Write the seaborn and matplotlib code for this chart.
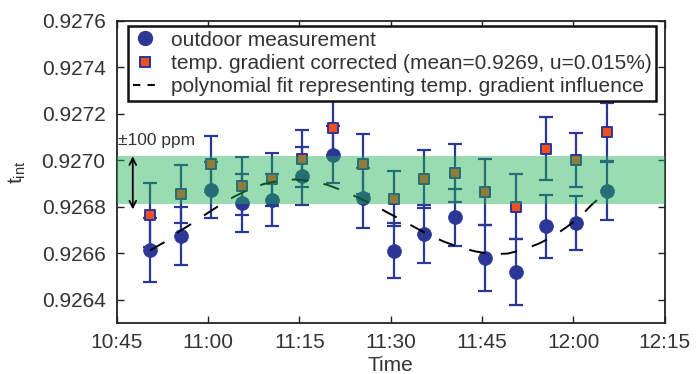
import numpy as np
import pandas as pd
import matplotlib
matplotlib.use("Agg")
import matplotlib.pyplot as plt
import matplotlib.dates as mdates
from matplotlib.lines import Line2D
from matplotlib.ticker import FormatStrFormatter
import seaborn as sns

# --- measurement series -------------------------------------------------
times = ["10:50:30", "10:55:30", "11:00:30", "11:05:30", "11:10:30", "11:15:30",
         "11:20:30", "11:25:30", "11:30:30", "11:35:30", "11:40:30", "11:45:30",
         "11:50:30", "11:55:30", "12:00:30", "12:05:30"]
outdoor = [0.926613, 0.926673, 0.926874, 0.926817, 0.926828, 0.926932,
           0.927025, 0.926840, 0.926612, 0.926684, 0.926755, 0.926580,
           0.926520, 0.926716, 0.926731, 0.926868]
corrected = [0.926766, 0.926854, 0.926983, 0.926890, 0.926918, 0.927008,
             0.927141, 0.926986, 0.926835, 0.926921, 0.926945, 0.926864,
             0.926800, 0.927050, 0.927002, 0.927122]
uncertainty = [0.000138, 0.000125, 0.000120, 0.000125, 0.000112, 0.000124,
               0.000122, 0.000129, 0.000118, 0.000125, 0.000124, 0.000142,
               0.000140, 0.000135, 0.000116, 0.000125]

# polynomial fit of the temperature-gradient influence
fit_times = ["10:50:30", "10:52:56", "10:54:34", "10:57:19", "10:59:40", "11:01:50",
             "11:04:08", "11:06:26", "11:09:04", "11:11:41", "11:14:16", "11:16:51",
             "11:19:34", "11:22:02", "11:24:30", "11:26:52", "11:29:19", "11:31:37",
             "11:33:58", "11:36:19", "11:38:47", "11:41:14", "11:43:49", "11:46:26",
             "11:49:11", "11:51:44", "11:54:19", "11:56:40", "11:58:52", "12:01:04",
             "12:02:52", "12:05:30"]
fit_values = [0.926613, 0.926650, 0.926683, 0.926728, 0.926769, 0.926806,
              0.926842, 0.926872, 0.926898, 0.926913, 0.926918, 0.926912,
              0.926895, 0.926871, 0.926842, 0.926813, 0.926778, 0.926746,
              0.926712, 0.926679, 0.926650, 0.926627, 0.926609, 0.926597,
              0.926599, 0.926616, 0.926642, 0.926673, 0.926713, 0.926756,
              0.926806, 0.926868]

# +-100 ppm band around the corrected mean
band_low, band_high = 0.926812, 0.927021

y_ticks = [0.9264, 0.9266, 0.9268, 0.9270, 0.9272, 0.9274, 0.9276]

BLUE = "#2B3797"
ORANGE = "#F24E22"
GREEN = "#1EB252"
TEXT = "#333333"

DAY = "2014-06-12 "

def to_dt(values):
    return pd.to_datetime([DAY + v for v in values])

df = pd.DataFrame({
    "time": to_dt(times),
    "outdoor": outdoor,
    "corrected": corrected,
    "err": uncertainty,
})
fit_df = pd.DataFrame({"time": to_dt(fit_times), "fit": fit_values})

sns.set_style("ticks")
plt.rcParams["font.family"] = ["Liberation Sans", "DejaVu Sans"]
plt.rcParams["text.color"] = TEXT
plt.rcParams["axes.labelcolor"] = TEXT
plt.rcParams["xtick.color"] = "#222222"
plt.rcParams["ytick.color"] = "#222222"
plt.rcParams["xtick.labelcolor"] = TEXT
plt.rcParams["ytick.labelcolor"] = TEXT

fig, ax = plt.subplots(figsize=(6.99, 3.74), dpi=100)
fig.subplots_adjust(left=0.167, right=0.951, top=0.944, bottom=0.136)

# outdoor measurement
ax.errorbar(df["time"], df["outdoor"], yerr=df["err"], fmt="none",
            ecolor=BLUE, elinewidth=1.6, capsize=5, capthick=1.6, zorder=2)
sns.scatterplot(data=df, x="time", y="outdoor", marker="o", s=100,
                color=BLUE, edgecolor=BLUE, linewidth=0.5, ax=ax, zorder=3,
                legend=False)

# temperature-gradient corrected
ax.errorbar(df["time"], df["corrected"], yerr=df["err"], fmt="none",
            ecolor=BLUE, elinewidth=1.6, capsize=5, capthick=1.6, zorder=3.5)
sns.scatterplot(data=df, x="time", y="corrected", marker="s", s=48,
                color=ORANGE, edgecolor=BLUE, linewidth=1.4, ax=ax, zorder=4,
                legend=False)

# fit curve
sns.lineplot(data=fit_df, x="time", y="fit", color="black", lw=1.4,
             linestyle=(0, (8.5, 8.0)), ax=ax, zorder=5, legend=False)

# tolerance band
ax.axhspan(band_low, band_high, color=GREEN, alpha=0.45, lw=0, zorder=6)
arrow_x = pd.Timestamp(DAY + "10:47:38")
ax.annotate("", xy=(arrow_x, 0.927018), xytext=(arrow_x, 0.926789),
            arrowprops=dict(arrowstyle="<->", color="black", lw=1.3,
                            shrinkA=0, shrinkB=0, mutation_scale=12),
            zorder=7)
ax.text(pd.Timestamp(DAY + "10:45:15"), 0.927065, "\u00b1100 ppm",
        fontsize=12.5, ha="left", va="baseline", color=TEXT, zorder=7)

# axes
ax.set_xlim(pd.Timestamp(DAY + "10:45"), pd.Timestamp(DAY + "12:15"))
ax.set_ylim(0.9263, 0.9276)
ax.xaxis.set_major_locator(mdates.MinuteLocator(byminute=[0, 15, 30, 45]))
ax.xaxis.set_major_formatter(mdates.DateFormatter("%H:%M"))
ax.set_yticks(y_ticks)
ax.yaxis.set_major_formatter(FormatStrFormatter("%.4f"))
ax.tick_params(direction="in", top=True, right=True, length=5, width=1,
               labelsize=15, pad=8)
ax.tick_params(axis="x", pad=7)
for sp in ax.spines.values():
    sp.set_linewidth(1.3)
    sp.set_color("#222222")
ax.set_xlabel("Time", fontsize=15, labelpad=3)
ax.set_ylabel(r"$\mathregular{t_{int}}$", fontsize=15, labelpad=10)

handles = [
    Line2D([], [], marker="o", ls="none", color=BLUE, markersize=10),
    Line2D([], [], marker="s", ls="none", mfc=ORANGE, mec=BLUE, mew=1.4,
           markersize=7),
    Line2D([], [], color="black", lw=1.5, linestyle=(0, (3.5, 3.5))),
]
labels = [
    "outdoor measurement",
    "temp. gradient corrected (mean=0.9269, u=0.015%)",
    "polynomial fit representing temp. gradient influence",
]
leg = ax.legend(handles, labels, loc="upper left",
                bbox_to_anchor=(0.0206, 0.983), borderaxespad=0,
                fontsize=15, frameon=True, fancybox=False, framealpha=1,
                edgecolor="#111111", borderpad=0.22, labelspacing=0.2,
                handlelength=1.15, handletextpad=0.7)
leg.get_frame().set_linewidth(1.8)
leg.set_zorder(10)

fig.savefig("out.png", dpi=100)
